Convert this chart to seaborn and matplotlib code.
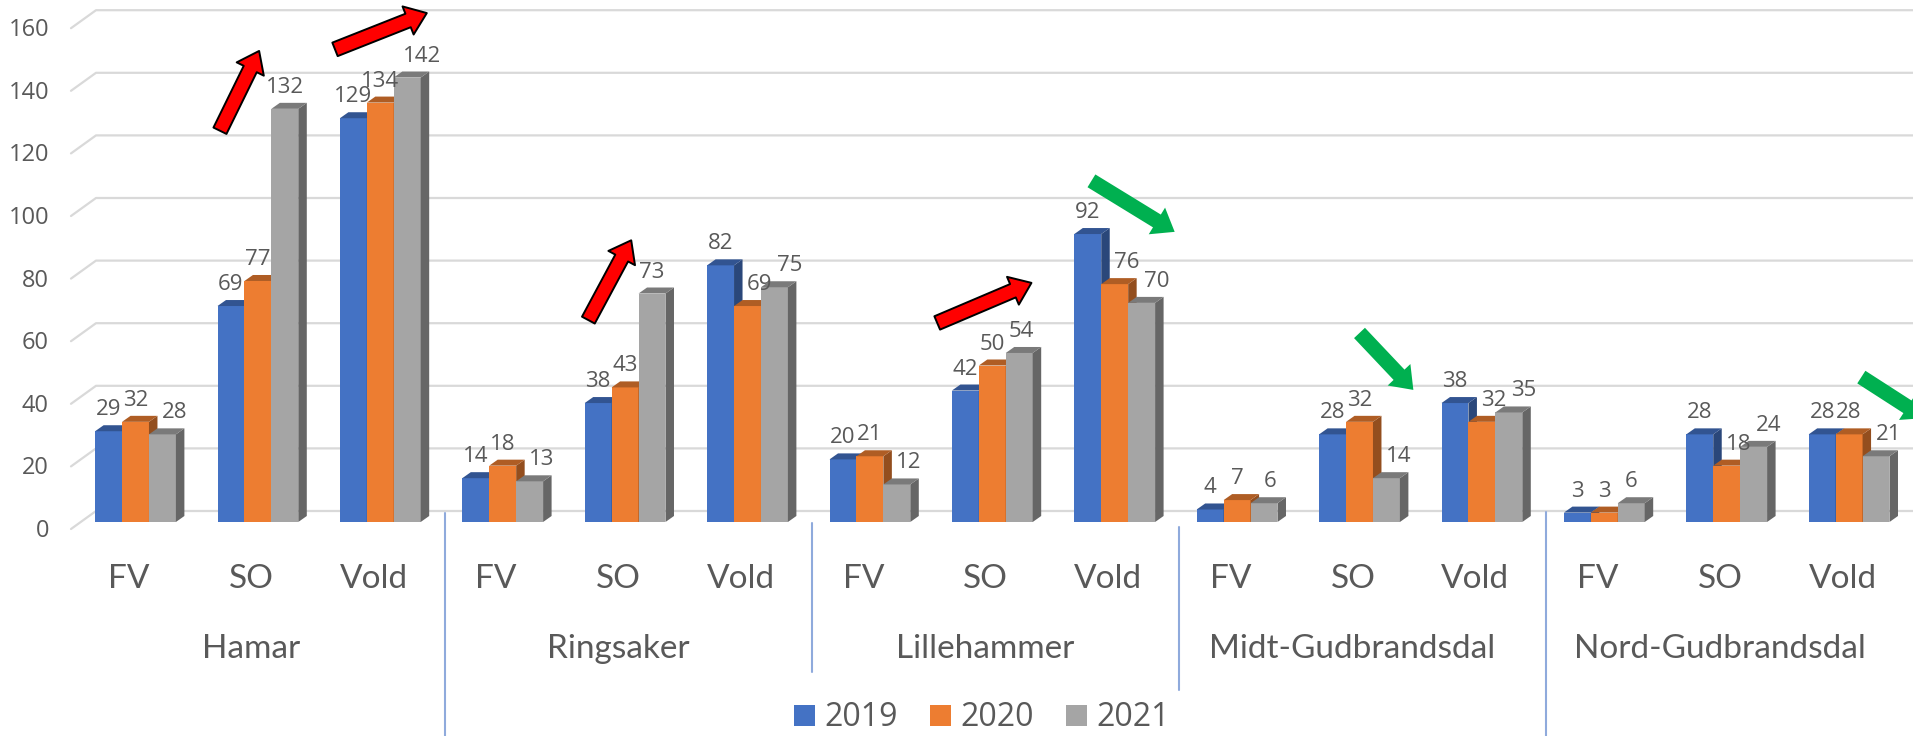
import numpy as np
import pandas as pd
import seaborn as sns
import matplotlib.pyplot as plt
from matplotlib.colors import to_rgb
from matplotlib.patches import Polygon, Patch

# data
regions = ['Hamar', 'Ringsaker', 'Lillehammer', 'Midt-Gudbrandsdal', 'Nord-Gudbrandsdal']
types = ['FV', 'SO', 'Vold']
years = ['2019', '2020', '2021']
v2019 = [29, 69, 129, 14, 38, 82, 20, 42, 92, 4, 28, 38, 3, 28, 28]
v2020 = [32, 77, 134, 18, 43, 69, 21, 50, 76, 7, 32, 32, 3, 18, 28]
v2021 = [28, 132, 142, 13, 73, 75, 12, 54, 70, 6, 14, 35, 6, 24, 21]
colors = ['#4472C4', '#ED7D31', '#A5A5A5']

# trend arrows (category pos, value) tail -> tip
red_arrows = [((0.69, 125), (1.01, 150.5)), ((1.63, 151), (2.38, 162.6)),
              ((3.70, 64.5), (4.05, 90)), ((6.55, 63.6), (7.32, 76.4))]
green_arrows = [((7.81, 109), (8.49, 92.7)), ((10.0, 60.4), (10.44, 42.2)),
                ((14.1, 46.3), (14.62, 33.2))]

cats = [f'{r} {t}' for r in regions for t in types]
df = pd.DataFrame({'cat': cats * 3,
                   'year': np.repeat(years, len(cats)),
                   'value': v2019 + v2020 + v2021})

sns.set_style('white')
plt.rcParams['font.family'] = ['Lato', 'DejaVu Sans']
num_font = ['Open Sans', 'DejaVu Sans']
txt = '#595959'

W, H = 1913, 736
fig = plt.figure(figsize=(W / 100, H / 100), dpi=100)
base_px = 522          # bar base, px from top
ppx = 122.4            # px per category
ppy = 500.8 / 160      # px per unit
x0px = 135.5           # centre of first group
ax = fig.add_axes([71 / W, (H - base_px) / H, (W - 71) / W, 500.8 / H])

sns.barplot(df, x='cat', y='value', hue='year', order=cats, palette=colors,
            width=0.66, saturation=1, legend=False, ax=ax)

xl = (71 - x0px) / ppx
xr = (W - x0px) / ppx
ax.set_xlim(xl, xr)
ax.set_ylim(0, 160)
ax.axis('off')

# fake 3D faces
dx, dy = 8.5 / ppx, 6 / ppy
rgb = [to_rgb(c) for c in colors]
bars = {}
for p in list(ax.patches):
    fc = to_rgb(p.get_facecolor())
    j = int(np.argmin([np.sum(np.abs(np.array(fc) - np.array(c))) for c in rgb]))
    x0, w, h = p.get_x(), p.get_width(), p.get_height()
    x1 = x0 + w
    z = 2 + j
    p.set_zorder(z)
    p.set_edgecolor('none')
    side = tuple(np.array(fc) * 0.62)
    top = tuple(np.array(fc) * 0.74)
    ax.add_patch(Polygon([(x1, 0), (x1 + dx, dy), (x1 + dx, h + dy), (x1, h)],
                         fc=side, ec='none', zorder=z, clip_on=False))
    ax.add_patch(Polygon([(x0, h), (x0 + dx, h + dy), (x1 + dx, h + dy), (x1, h)],
                         fc=top, ec='none', zorder=z, clip_on=False))
    ann = ax.annotate(f'{int(h)}', (x0 + w / 2, h), xytext=(0, 16 * 0.72),
                      textcoords='offset points', ha='center', va='baseline',
                      fontsize=16, color=txt, zorder=10, family=num_font)
    bars[(int(round(x0 + w / 2)), j)] = (x0, w, h, ann)

# value labels: move right when the taller bar on the left hides them,
# or when they run into the label before them
fig.canvas.draw()
rend = fig.canvas.get_renderer()
for i in range(len(cats)):
    prev_right = None
    prev_h = None
    for j in range(3):
        x0, w, h, ann = bars[(i, j)]
        tw = ann.get_window_extent(rend).width
        centre = (x0 + w / 2 - xl) * ppx
        left = centre - tw / 2
        if j > 0 and prev_h > h:
            left = max(left, (x0 - xl) * ppx + 13)
        if j == 2 and abs(prev_h - h) * ppy < 30:
            left = max(left, prev_right + 4)
        shift = left + tw / 2 - centre
        ann.xyann = (shift * 0.72, 16 * 0.72)
        prev_right = left + tw
        prev_h = h

# back wall gridlines + y labels
xb = (96 - x0px) / ppx
for v in range(0, 161, 20):
    yb = v + 11 / ppy
    yf = v - 7 / ppy
    ax.plot([xl, xb, xr], [yf, yb, yb], color='#D9D9D9', lw=1.6,
            zorder=0.5, clip_on=False)
    ax.annotate(str(v), (xl, v), xytext=(-22 * 0.72, -15 * 0.72),
                textcoords='offset points', ha='right', va='baseline',
                fontsize=17, color=txt, family=num_font)

# category labels
for i, c in enumerate(cats):
    ax.annotate(c.split(' ')[-1], (i - 6.5 / ppx, 0), xytext=(0, -66 * 0.72),
                textcoords='offset points', ha='center', va='baseline',
                fontsize=24, color=txt, annotation_clip=False)
for k, r in enumerate(regions):
    ax.annotate(r, (3 * k + 1 - 7 / ppx, 0), xytext=(0, -136 * 0.72),
                textcoords='offset points', ha='center', va='baseline',
                fontsize=24, color=txt, annotation_clip=False)

# group separators (px from top)
seps = [(2.5, 513, 736), (5.5, 523, 672), (8.5, 527, 690), (11.5, 512, 736)]
for xs, t, b in seps:
    xx = xs + 3 / ppx
    ax.plot([xx, xx], [(base_px - t) / ppy, (base_px - b) / ppy],
            color='#8FAADC', lw=1.5, clip_on=False)

# arrows
style = 'simple,head_length=1.0,head_width=1.5,tail_width=0.72'
for tail, tip in red_arrows:
    ax.annotate('', xy=tip, xytext=tail, annotation_clip=False,
                arrowprops=dict(arrowstyle=style, mutation_scale=14.5,
                                fc='#FF0000', ec='black', lw=1.4,
                                shrinkA=0, shrinkB=0), zorder=12)
for tail, tip in green_arrows:
    ax.annotate('', xy=tip, xytext=tail, annotation_clip=False,
                arrowprops=dict(arrowstyle=style, mutation_scale=15,
                                fc='#00B050', ec='none',
                                shrinkA=0, shrinkB=0), zorder=12)

handles = [Patch(fc=c, ec='none') for c in colors]
fig.legend(handles, years, loc='center', bbox_to_anchor=(982 / W, 1 - 718 / H),
           ncol=3, frameon=False, handlelength=0.66, handleheight=0.66,
           handletextpad=0.3, columnspacing=1.0, labelcolor=txt,
           prop={'family': num_font, 'size': 23})

fig.savefig('out.png', dpi=100, facecolor='white')
